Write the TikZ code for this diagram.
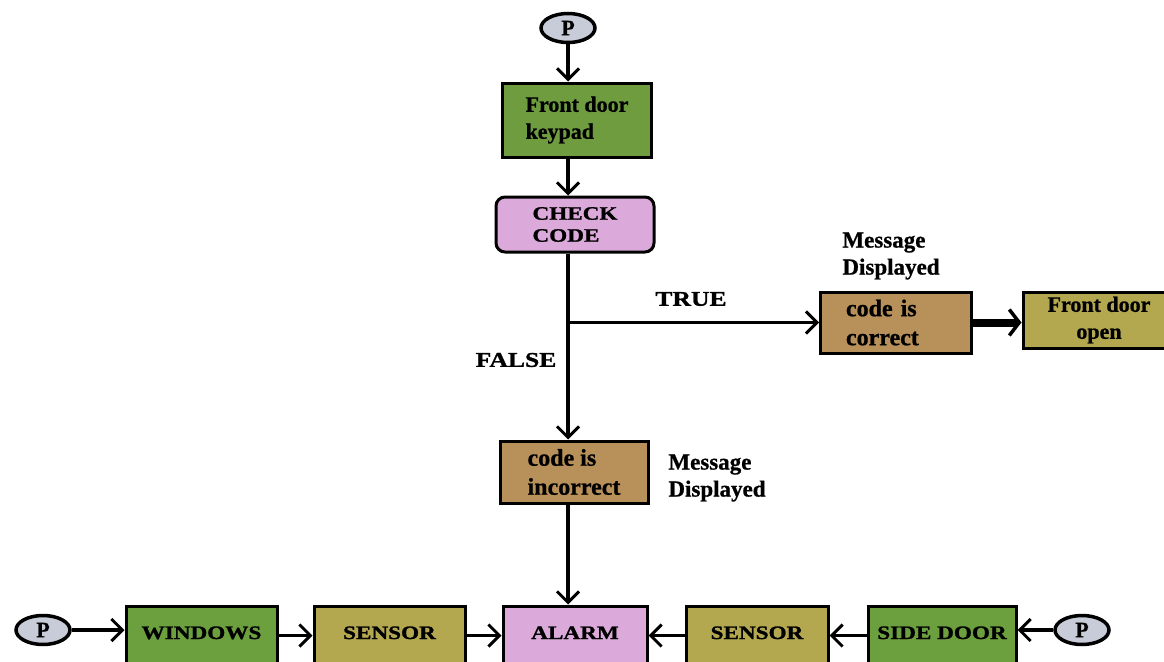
\documentclass[tikz,border=0pt]{standalone}
\usepackage{fontspec}
\usetikzlibrary{shapes.geometric,arrows.meta}
\setmainfont{Liberation Serif}
\newfontfamily\lfont[BoldFeatures={FakeBold=0.8}]{Liberation Serif}
\newfontfamily\cfont[FakeStretch=1.22,BoldFeatures={FakeBold=1.2}]{Liberation Serif}
\definecolor{kgreen}{HTML}{6E9C3F}
\definecolor{wgreen}{HTML}{6CA03E}
\definecolor{pinkc}{HTML}{DCAADA}
\definecolor{brownc}{HTML}{B8905A}
\definecolor{olivec}{HTML}{B3A850}
\definecolor{pfill}{HTML}{C7CCD8}
\begin{document}
\begin{tikzpicture}[x=1pt,y=-1pt,
  box/.style={draw=black, line width=3pt, inner sep=0pt},
  lowtxt/.style={font=\lfont\bfseries\fontsize{22}{27}\selectfont},
  codetxt/.style={font=\lfont\bfseries\fontsize{24}{29}\selectfont},
  captxt/.style={font=\cfont\bfseries\fontsize{19}{22}\selectfont},
  msgtxt/.style={font=\lfont\bfseries\fontsize{23}{27}\selectfont, align=left},
  tftxt/.style={font=\cfont\bfseries\fontsize{21}{22}\selectfont},
  pnode/.style={draw=black, line width=3.5pt, ellipse, fill=pfill, inner sep=0pt,
    minimum width=54, minimum height=29, font=\lfont\bfseries\fontsize{22}{22}\selectfont},
  rowbox/.style={box, captxt, text height=33, text depth=26, minimum width=#1, anchor=base},
  conn/.style={line width=3.5pt, -{Straight Barb[length=11pt,width=22pt,line width=3pt]}},
]
\clip (0,0) rectangle (1164,661);
\fill[white] (0,0) rectangle (1164,661);

% top column
\node[pnode] (ptop) at (568,28) {P};
\node[box, fill=kgreen, minimum width=149, minimum height=74, lowtxt, align=left] (keypad) at (577,120) {Front door\\keypad};
\node[box, rounded corners=9pt, fill=pinkc, minimum width=158, minimum height=55, captxt, align=left] (check) at (575,224.5) {CHECK\\CODE};
\node[box, fill=brownc, minimum width=151, minimum height=61, codetxt, text width=100, align=left] (correct) at (896,322.5) {code is\\correct};
\node[box, fill=olivec, minimum width=152, minimum height=56, lowtxt, align=center] (open) at (1099,320) {Front door\\open};
\node[box, fill=brownc, minimum width=148, minimum height=62, codetxt, align=left] (incorrect) at (574,472) {code is\\incorrect};

% labels
\node[msgtxt] (msg1) at (891,256) {Message\\Displayed};
\node[msgtxt] (msg2) at (717,478) {Message\\Displayed};
\node[tftxt] (true) at (691,299) {TRUE};
\node[tftxt] (false) at (516,360) {FALSE};

% bottom row
\node[pnode] (pleft) at (43,630) {P};
\node[rowbox=151, fill=wgreen] (windows) at (201.5,639) {WINDOWS};
\node[rowbox=151, fill=olivec] (sensorl) at (389.5,639) {SENSOR};
\node[rowbox=144, fill=pinkc] (alarm) at (575,639) {ALARM};
\node[rowbox=142, fill=olivec] (sensorr) at (757,639) {SENSOR};
\node[rowbox=148, fill=wgreen] (sidedoor) at (942,639) {SIDE DOOR};
\node[pnode] (pright) at (1082,630) {P};

% connectors
\draw[conn] (ptop.south) -- (ptop.south |- keypad.north);
\draw[conn] (keypad.south -| ptop) -- (check.north -| ptop);
\draw[conn] (check.south -| ptop) -- (incorrect.north -| ptop);
\coordinate (branch) at (ptop |- correct.west);
\draw[conn] (branch) -- (correct.west);
\draw[line width=8pt, -{Straight Barb[length=10pt,width=26pt,line width=3.5pt]}] (correct.east) -- (correct.east -| open.west);
\draw[conn] (incorrect.south -| ptop) -- (alarm.north -| ptop);

\draw[conn] (pleft.east) -- (pleft.east -| windows.west);
\draw[conn] (windows.east) -- (sensorl.west);
\draw[conn] (sensorl.east) -- (alarm.west);
\draw[conn] (sensorr.west) -- (alarm.east);
\draw[conn] (sidedoor.west) -- (sensorr.east);
\draw[conn] (pright.west) -- (pright.west -| sidedoor.east);
\end{tikzpicture}
\end{document}
